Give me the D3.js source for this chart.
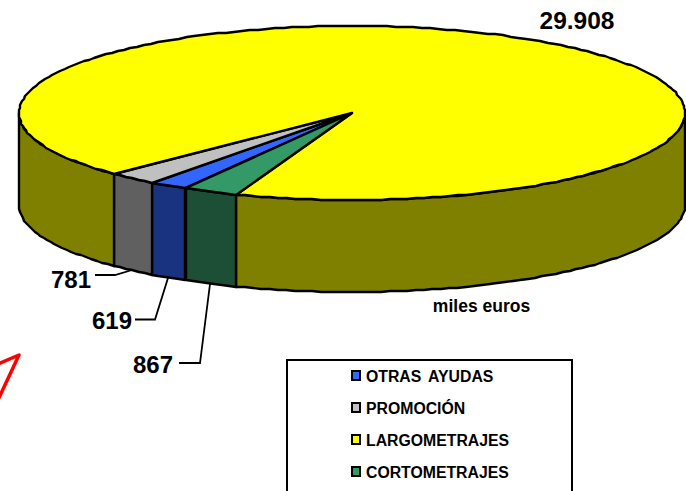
<!DOCTYPE html>
<html>
<head>
<meta charset="utf-8">
<script src="https://cdn.jsdelivr.net/npm/d3@7"></script>
<style>
  html, body { margin: 0; padding: 0; background: #fff; }
  svg { display: block; font-family: "Liberation Sans", Arial, sans-serif; font-weight: bold; fill: #000; }
</style>
</head>
<body>
<div id="chart"></div>
<script>
// same order as the legend, clockwise
const categories = ["OTRAS AYUDAS", "PROMOCIÓN", "LARGOMETRAJES", "CORTOMETRAJES"]
const values = [619, 781, 29908, 867]
const valueLabels = ["619", "781", "29.908", "867"]
const unitLabel = "miles euros"

const topColors = ["#3366ff", "#c0c0c0", "#ffff00", "#339966"]
const wallColors = ["#1a3380", "#606060", "#808000", "#1c4f36"]

const width = 686
const height = 491

const cx = 352, cy = 113, rx = 333, ry = 87, depth = 92

const xScale = d3.scaleLinear().domain([-1, 1]).range([cx - rx, cx + rx])
const yScale = d3.scaleLinear().domain([-1, 1]).range([cy - ry, cy + ry])

const toRad = d => d * Math.PI / 180

const firstAngle = 210
const slices = d3.pie().sort(null).startAngle(toRad(firstAngle)).endAngle(toRad(firstAngle + 360))(values)

// d3 angles: 0 is up, clockwise. rounded to whole pixels, the original rim is stepped too
const rimPoint = (a, drop = 0) => [Math.round(xScale(Math.sin(a))), Math.round(yScale(-Math.cos(a))) + drop]

const sampleAngles = (a0, a1) => {
  const n = Math.max(2, Math.ceil((a1 - a0) / toRad(1.5)))
  return d3.range(n + 1).map(i => a0 + (a1 - a0) * i / n)
}

const line = d3.line()

const svg = d3.select("#chart").append("svg")
  .attr("width", width)
  .attr("height", height)

// side wall, only the front half of the rim can be seen
const wallGroup = svg.append("g")
slices.forEach(s => {
  const ranges = [[s.startAngle, s.endAngle], [s.startAngle - 2 * Math.PI, s.endAngle - 2 * Math.PI]]
  ranges.forEach(([a0, a1]) => {
    const from = Math.max(a0, toRad(90))
    const to = Math.min(a1, toRad(270))
    if (from >= to) return
    const angles = sampleAngles(from, to)
    const pts = angles.map(a => rimPoint(a))
      .concat(angles.slice().reverse().map(a => rimPoint(a, depth)))
    wallGroup.append("path")
      .attr("d", line(pts) + "Z")
      .attr("fill", wallColors[s.index])
      .attr("stroke", "#000")
      .attr("stroke-width", 2.4)
      .attr("stroke-linejoin", "round")
  })
})

// top face
const topGroup = svg.append("g")
slices.forEach(s => {
  const pts = [[xScale(0), yScale(0)]].concat(sampleAngles(s.startAngle, s.endAngle).map(a => rimPoint(a)))
  topGroup.append("path")
    .attr("d", line(pts) + "Z")
    .attr("fill", topColors[s.index])
    .attr("stroke", "#000")
    .attr("stroke-width", 2.4)
    .attr("stroke-linejoin", "round")
})

// leader lines run from the middle of each small wall
const leaderLabels = [
  { i: 1, label: [91, 279], elbow: [[95, 275], [115, 275]] },
  { i: 0, label: [132, 320], elbow: [[135, 319.5], [155, 319.5]] },
  { i: 3, label: [173, 364], elbow: [[179, 363], [200, 363]] }
]

leaderLabels.forEach(d => {
  const s = slices[d.i]
  const end = rimPoint((s.startAngle + s.endAngle) / 2, depth)
  svg.append("path")
    .attr("d", line(d.elbow.concat([end])))
    .attr("fill", "none")
    .attr("stroke", "#000")
    .attr("stroke-width", 1.8)
  svg.append("text")
    .attr("x", d.label[0])
    .attr("y", d.label[1] + 8.5)
    .attr("text-anchor", "end")
    .attr("font-size", 24)
    .text(valueLabels[d.i])
})

svg.append("text")
  .attr("x", 577)
  .attr("y", 29)
  .attr("text-anchor", "middle")
  .attr("font-size", 24.5)
  .text(valueLabels[2])

svg.append("text")
  .attr("x", 481.5)
  .attr("y", 312)
  .attr("text-anchor", "middle")
  .attr("font-size", 17.5)
  .text(unitLabel)

// legend, the box runs off the bottom of the picture
svg.append("rect")
  .attr("x", 287)
  .attr("y", 360)
  .attr("width", 285)
  .attr("height", 140)
  .attr("fill", "#fff")
  .attr("stroke", "#000")
  .attr("stroke-width", 2)

const legendY = d3.scalePoint().domain(categories).range([376, 472])

const legendRows = svg.append("g")
  .selectAll("g")
  .data(categories)
  .enter().append("g")
  .attr("transform", d => `translate(0,${legendY(d)})`)

legendRows.append("rect")
  .attr("x", 352)
  .attr("y", -5)
  .attr("width", 8)
  .attr("height", 9)
  .attr("fill", (d, i) => topColors[i])
  .attr("stroke", "#000")
  .attr("stroke-width", 2)

legendRows.append("text")
  .attr("x", 366)
  .attr("y", 5.5)
  .attr("font-size", 15.8)
  .attr("word-spacing", 3)
  .text(d => d)

// red pen mark at the left edge
svg.append("path")
  .attr("d", line([[-2, 364], [19, 355], [-2, 400]]))
  .attr("fill", "none")
  .attr("stroke", "#ff0000")
  .attr("stroke-width", 3.5)
  .attr("stroke-linejoin", "round")
</script>
</body>
</html>
